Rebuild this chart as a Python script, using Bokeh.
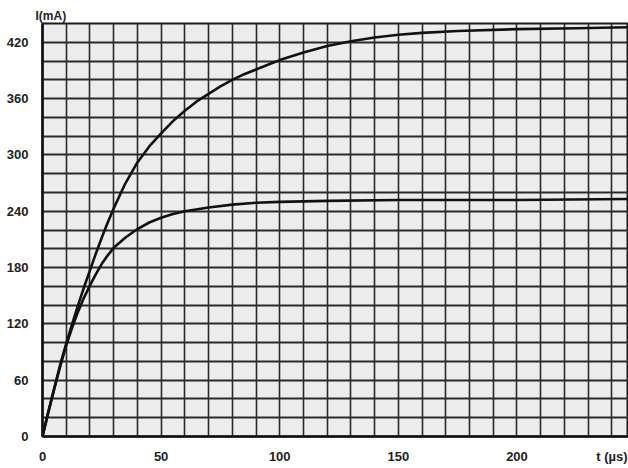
from bokeh.plotting import figure
from bokeh.models import FixedTicker, Range1d
from bokeh.embed import file_html
from bokeh.resources import INLINE

# Data
t_upper = [0, 2.5, 5, 7.5, 10, 12.5, 15, 17.5, 20, 22.5, 25, 27.5, 30, 35, 40, 45, 50, 55, 60, 65, 70, 75,
           80, 85, 90, 95, 100, 110, 120, 130, 140, 150, 160, 175, 200, 225, 247]
i_upper = [0, 27, 52, 77, 99, 120, 140, 159, 177, 195, 212, 228, 243, 270, 292, 309, 323, 336, 347, 357, 365, 373,
           380, 386, 391, 396, 401, 409, 416, 421, 425, 428, 430, 432, 434, 435, 436]

t_lower = [0, 2.5, 5, 7.5, 10, 12.5, 15, 17.5, 20, 22.5, 25, 27.5, 30, 35, 40, 45, 50, 55, 60, 70,
           80, 90, 100, 120, 150, 200, 247]
i_lower = [0, 26, 51, 75, 97, 116, 133, 148, 161, 173, 184, 193, 201, 212, 221, 228, 233, 237, 240, 244,
           247, 249, 250, 251, 252, 252, 253]

x_ticks = [0, 50, 100, 150, 200, 240]
x_labels = {240: "t (µs)"}
y_ticks = [0, 60, 120, 180, 240, 300, 360, 420]
y_title = "I(mA)"
x_grid = list(range(0, 250, 10))
y_grid = list(range(0, 441, 20))

p = figure(width=628, height=468, output_backend="svg", toolbar_location=None,
           x_range=Range1d(0, 247), y_range=Range1d(0, 440),
           min_border_left=42, min_border_right=0, min_border_top=23, min_border_bottom=32,
           title=y_title)

p.title.align = "left"
p.title.offset = -7
p.title.standoff = 1
p.title.text_font = "Liberation Sans"
p.title.text_font_size = "12px"
p.title.text_font_style = "bold"
p.title.text_color = "#222222"

p.background_fill_color = "#ececec"
p.border_fill_color = "white"
p.outline_line_color = "#1a1a1a"
p.outline_line_width = 2

p.xgrid.ticker = FixedTicker(ticks=x_grid)
p.ygrid.ticker = FixedTicker(ticks=y_grid)
p.xgrid.grid_line_color = "#2a2a2a"
p.xgrid.grid_line_width = 1.6
p.ygrid.grid_line_color = "#2a2a2a"
p.ygrid.grid_line_width = 2

for ax, ticks in ((p.xaxis[0], x_ticks), (p.yaxis[0], y_ticks)):
    ax.ticker = FixedTicker(ticks=ticks)
    ax.axis_line_color = "#111111"
    ax.axis_line_width = 2.5
    ax.major_tick_line_color = None
    ax.minor_tick_line_color = None
    ax.major_label_text_font = "Liberation Sans"
    ax.major_label_text_font_size = "13px"
    ax.major_label_text_font_style = "bold"
    ax.major_label_text_color = "#222222"
p.xaxis[0].major_label_overrides = x_labels
p.xaxis[0].major_label_standoff = 6
p.yaxis[0].major_label_standoff = 8

p.line(t_upper, i_upper, line_color="#111111", line_width=2.6, line_join="round")
p.line(t_lower, i_lower, line_color="#111111", line_width=2.6, line_join="round")

open("out.html", "w").write(file_html(p, INLINE))
